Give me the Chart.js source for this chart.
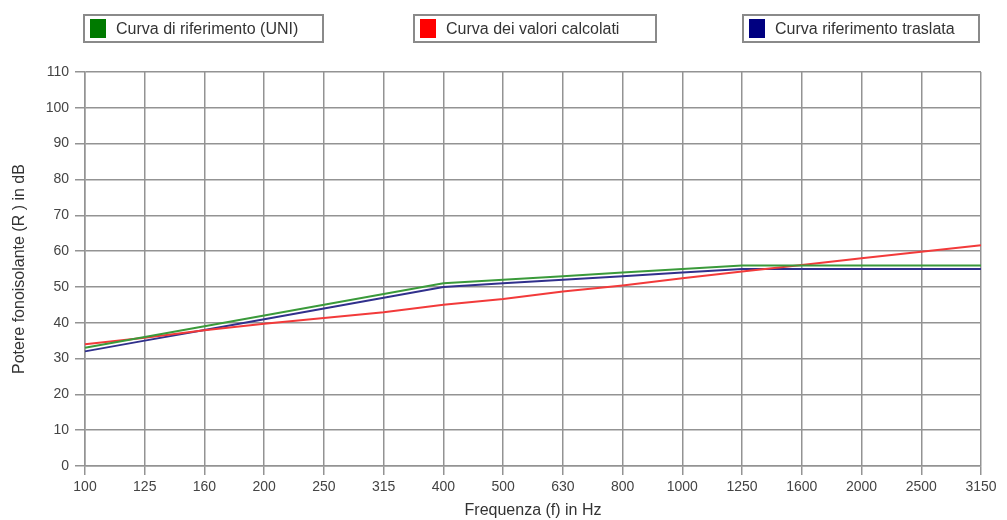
<!DOCTYPE html>
<html lang="it">
<head>
<meta charset="UTF-8">
<title>Potere fonoisolante</title>
<script src="https://cdn.jsdelivr.net/npm/chart.js"></script>
<style>
  html, body { margin: 0; padding: 0; background: #fff; }
  .wrap { position: relative; width: 1007px; height: 520px; }
  .legend-item {
    position: absolute;
    top: 14px;
    height: 25px;
    border: 2px solid #8a8a8a;
    box-sizing: content-box;
    display: flex;
    align-items: center;
    font: 16px "Liberation Sans", Arial, sans-serif;
    color: #333;
  }
  .legend-item span.sw {
    display: inline-block;
    width: 16px;
    height: 19px;
    margin: 0 10px 0 5px;
  }
</style>
</head>
<body>
<div class="wrap">
  <canvas id="chart" width="1007" height="520"></canvas>
  <div id="legend"></div>
</div>
<script>
// frequenze di terzo d'ottava
const frequenze = ['100', '125', '160', '200', '250', '315', '400', '500', '630',
                   '800', '1000', '1250', '1600', '2000', '2500', '3150'];

// curva di riferimento UNI
const curvaRiferimento = [33, 36, 39, 42, 45, 48, 51, 52, 53, 54, 55, 56, 56, 56, 56, 56];
// valori calcolati
const curvaCalcolata = [34, 35.8, 37.9, 39.7, 41.3, 42.9, 45, 46.6, 48.7, 50.4, 52.4, 54.3, 56.1, 58, 59.8, 61.6];
// curva di riferimento traslata
const curvaTraslata = [32, 35, 38, 41, 44, 47, 50, 51, 52, 53, 54, 55, 55, 55, 55, 55];

const etichette = ['Curva di riferimento (UNI)', 'Curva dei valori calcolati', 'Curva riferimento traslata'];
const coloriLinea = ['#3a9a3a', '#f23a3a', '#30308c'];
const coloriLegenda = ['#007a00', '#ff0000', '#000080'];

// legenda: un riquadro per ogni serie
const posLegenda = [{ left: 83, width: 237 }, { left: 413, width: 240 }, { left: 742, width: 234 }];
const legend = document.getElementById('legend');
etichette.forEach((t, i) => {
  const d = document.createElement('div');
  d.className = 'legend-item';
  d.style.left = posLegenda[i].left + 'px';
  d.style.width = posLegenda[i].width + 'px';
  d.innerHTML = '<span class="sw" style="background:' + coloriLegenda[i] + '"></span>' + t;
  legend.appendChild(d);
});

const serie = [curvaRiferimento, curvaCalcolata, curvaTraslata];

new Chart(document.getElementById('chart'), {
  type: 'line',
  data: {
    labels: frequenze,
    datasets: serie.map((s, i) => ({
      label: etichette[i],
      data: s,
      borderColor: coloriLinea[i],
      borderWidth: 2,
      pointRadius: 0,
      tension: 0
    }))
  },
  options: {
    responsive: false,
    animation: false,
    layout: { padding: { top: 72, right: 26, left: 10, bottom: 0 } },
    plugins: {
      legend: { display: false },
      tooltip: { enabled: false }
    },
    scales: {
      x: {
        offset: false,
        grid: { color: '#939393', lineWidth: 1.5, tickLength: 9, drawTicks: true },
        border: { color: '#939393', width: 1.5 },
        ticks: {
          color: '#444',
          padding: 4,
          maxRotation: 0,
          autoSkip: false,
          font: { family: 'Liberation Sans', size: 14 }
        },
        title: {
          display: true,
          text: 'Frequenza (f) in Hz',
          color: '#333',
          padding: { top: 0, bottom: 0 },
          font: { family: 'Liberation Sans', size: 16 }
        },
        afterFit: (s) => { s.height = 54; }
      },
      y: {
        min: 0,
        max: 110,
        grid: { color: '#939393', lineWidth: 1.5, tickLength: 10 },
        border: { color: '#939393', width: 1.5 },
        ticks: {
          stepSize: 10,
          color: '#444',
          padding: 6,
          font: { family: 'Liberation Sans', size: 14 }
        },
        title: {
          display: true,
          text: 'Potere fonoisolante (R ) in dB',
          color: '#333',
          padding: { top: 0, bottom: 0 },
          font: { family: 'Liberation Sans', size: 16 }
        },
        afterFit: (s) => { s.width = 75; }
      }
    }
  }
});
</script>
</body>
</html>
